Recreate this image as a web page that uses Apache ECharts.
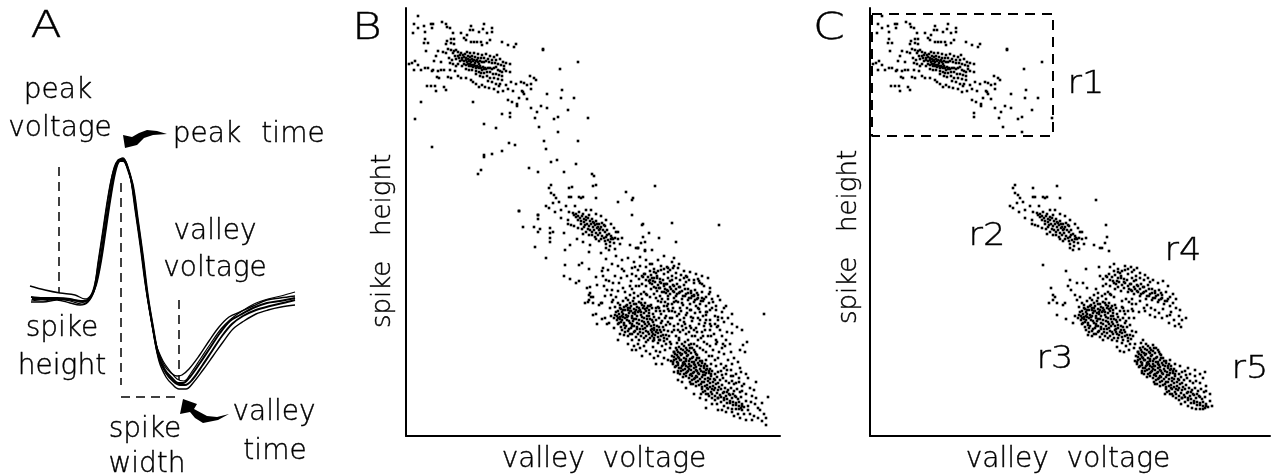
<!DOCTYPE html>
<html><head><meta charset="utf-8">
<style>html,body{margin:0;padding:0;background:#fff}#c{width:1277px;height:476px}</style>
<script src="https://cdn.jsdelivr.net/npm/echarts@6/dist/echarts.min.js"></script>
</head><body><div id="c"></div>
<script>
const wave1=[[31,179],[43,178],[57,178],[70,177],[83,174],[90,178],[95,189],[100,213],[105,246],[110,279],[115,306],[119,315],[123,317],[127,311],[132,293],[137,259],[142,223],[147,183],[152,153],[158,122],[165,106],[172,98],[178,93],[183,93],[190,99],[200,113],[210,128],[220,143],[230,155],[240,161],[253,168],[267,173],[280,175],[295,178]];
const wave2=[[30,190],[45,186],[60,183],[75,181],[85,177],[91,181],[95,193],[99,217],[104,250],[109,283],[114,308],[118,316],[122,317],[126,312],[131,296],[136,263],[141,228],[146,190],[151,159],[157,128],[164,111],[171,103],[177,100],[182,101],[189,107],[199,120],[209,135],[219,149],[229,159],[240,164],[253,170],[267,176],[280,178],[295,180]];
const wave3=[[31,174],[43,174],[57,176],[70,173],[80,171],[88,174],[94,185],[99,209],[104,242],[109,275],[114,303],[118,314],[123,318],[128,308],[133,287],[138,252],[143,216],[148,176],[153,146],[159,115],[166,99],[172,92],[179,87],[186,87],[193,93],[203,106],[213,120],[223,134],[233,147],[244,155],[256,162],[268,166],[281,169],[295,171]];
const wave4=[[31,176],[43,175],[57,177],[70,175],[82,172],[89,176],[94,187],[98,214],[103,247],[108,280],[113,304],[118,315],[121,316],[125,313],[130,300],[135,266],[140,231],[145,193],[150,163],[156,132],[163,115],[170,105],[177,97],[184,95],[191,103],[201,118],[211,133],[221,147],[231,157],[242,165],[254,172],[268,177],[281,180],[295,184]];
const wave5=[[32,177],[43,177],[57,177],[72,176],[84,175],[91,180],[96,191],[101,215],[106,248],[111,281],[116,307],[120,315],[124,315],[128,306],[133,290],[138,255],[143,219],[148,179],[153,149],[159,118],[166,103],[173,95],[180,91],[185,91],[192,96],[202,110],[212,125],[222,140],[232,152],[243,160],[256,166],[270,170],[283,173],[295,176]];
const peakVoltageMark=[[59,309],[59,183]];
const spikeHeightMark=[[121,293],[121,91]];
const valleyVoltageMark=[[179,176],[179,96]];
const spikeWidthMark=[[121,79],[181,79]];

const r1=[[12,420],[8,412],[18,410],[25,412],[27,412],[36,414],[40,412],[41,409],[44,408],[12,408],[26,408],[7,403],[19,404],[78,412],[65,410],[64,406],[67,406],[73,404],[77,407],[86,408],[86,404],[81,403],[47,403],[55,403],[61,401],[58,398],[19,397],[18,393],[22,393],[41,395],[45,397],[48,397],[40,392],[45,393],[48,392],[60,396],[65,394],[68,394],[71,394],[75,394],[76,391],[81,393],[84,396],[96,394],[102,391],[108,389],[110,392],[137,386],[20,385],[32,385],[37,384],[40,383],[30,380],[28,375],[35,374],[6,373],[9,375],[3,372],[12,371],[8,366],[15,366],[19,368],[22,368],[26,365],[27,366],[32,365],[35,366],[38,366],[44,366],[49,365],[31,359],[33,358],[42,359],[45,358],[52,360],[55,358],[60,358],[65,356],[21,350],[25,350],[29,350],[38,349],[30,345],[40,346],[67,354],[70,352],[76,351],[82,355],[86,354],[90,352],[94,352],[73,349],[79,349],[83,348],[88,347],[93,350],[100,351],[105,354],[110,352],[115,354],[118,353],[92,344],[97,345],[102,347],[107,345],[116,345],[118,342],[125,347],[124,360],[128,358],[130,356],[125,352],[121,351],[141,342],[156,346],[155,338],[168,338],[117,344],[113,338],[102,336],[106,334],[111,332],[111,330],[121,337],[125,328],[135,330],[141,328],[131,324],[129,318],[162,326],[152,319],[148,317],[182,318],[133,309],[152,304],[104,323],[104,319],[172,374],[137,387],[154,367],
[42,387],[45,386],[48,385],[50,386],[47,383],[52,384],[55,383],[49,380],[52,380],[54,381],[57,381],[59,382],[61,384],[64,383],[68,383],[72,382],[76,381],[80,382],[84,380],[88,379],[91,381],[50,377],[53,378],[56,378],[58,379],[60,378],[62,380],[64,379],[66,380],[69,379],[72,378],[75,378],[78,378],[82,377],[86,376],[90,376],[94,377],[97,374],[100,373],[104,372],[54,375],[56,376],[58,375],[60,376],[61,374],[62,377],[63,375],[64,376],[65,374],[66,377],[67,375],[68,376],[69,373],[70,375],[71,376],[72,374],[73,372],[74,375],[76,374],[78,374],[80,375],[83,374],[86,373],[89,373],[92,372],[95,371],[98,370],[58,372],[60,371],[62,372],[63,370],[64,372],[65,370],[66,371],[67,369],[68,371],[69,370],[70,368],[71,370],[72,369],[73,368],[74,370],[75,368],[76,366],[77,369],[78,367],[79,368],[80,367],[82,368],[84,368],[86,367],[88,368],[90,369],[92,366],[94,365],[96,364],[98,367],[100,365],[104,364],[56,370],[60,367],[63,366],[66,366],[70,365],[73,364],[75,363],[78,363],[81,364],[84,364],[87,362],[90,362],[93,361],[96,360],[70,362],[74,360],[77,359],[81,360],[84,358],[88,358],[92,357],[96,356],[52,372],[50,370],[47,372],[44,373],[46,376],[43,378]];
const r2=[[145,251],[143,248],[163,248],[187,250],[226,236],[145,243],[148,241],[150,238],[163,239],[165,239],[173,239],[177,239],[190,238],[147,233],[140,230],[143,228],[153,234],[160,230],[169,230],[175,238],[149,224],[155,226],[163,224],[180,226],[185,226],[155,218],[162,216],[167,223],[168,221],[170,219],[172,220],[174,218],[176,220],[178,217],[172,216],[175,215],[178,214],[180,216],[182,218],[184,215],[186,217],[188,213],[190,215],[193,212],[196,213],[199,210],[181,212],[183,210],[185,212],[187,209],[189,211],[191,208],[193,206],[195,209],[197,206],[199,204],[201,206],[203,202],[205,200],[207,197],[184,206],[186,204],[188,206],[190,203],[192,201],[194,203],[196,200],[198,198],[200,199],[202,196],[204,194],[206,198],[162,212],[165,211],[168,210],[172,208],[176,207],[178,209],[180,204],[183,201],[177,202],[200,192],[204,190],[208,193],[212,197],[214,192],[209,187],[203,186],[200,188],[193,195],[190,197],[210,204],[208,208],[212,204],[205,212],[200,216],[195,220],[190,222],[216,198],[236,211],[237,199],[235,193],[224,191],[230,188],[232,188],[239,185],
[170,222],[173,224],[177,222],[180,219],[183,221],[175,212],[179,211],[182,207],[187,214],[191,212],[194,207],[198,211],[186,201],[189,199],[195,197],[199,195],[201,201],[205,197],[209,198],[192,209]];
const r3=[[173,171],[196,165],[216,167],[229,169],[181,148],[200,156],[198,150],[201,146],[207,153],[213,153],[217,148],[183,141],[183,136],[185,139],[179,133],[187,133],[193,131],[187,121],[196,117],[195,133],[205,141],[210,139],[207,136],[212,133],[209,129],[214,131],[217,135],[220,138],[224,141],[228,143],[232,140],[236,137],[240,142],[244,139],[215,127],[218,129],[221,131],[224,133],[227,135],[230,132],[233,134],[236,131],[239,133],[242,130],[246,128],[210,124],[213,122],[216,124],[219,126],[222,128],[225,125],[228,127],[231,129],[234,126],[237,128],[240,125],[243,123],[247,122],[250,125],[253,128],[255,122],[258,125],[208,118],[211,120],[214,117],[217,119],[220,121],[223,123],[226,120],[229,122],[232,124],[235,121],[238,118],[241,120],[244,117],[247,114],[250,116],[253,118],[256,115],[259,118],[212,112],[215,114],[218,111],[221,116],[224,113],[227,115],[230,117],[233,112],[236,115],[239,112],[242,114],[245,110],[248,108],[251,110],[254,106],[257,109],[260,111],[262,105],[216,106],[219,108],[222,105],[225,108],[228,110],[231,107],[234,104],[237,107],[240,105],[243,102],[246,104],[249,101],[252,103],[255,100],[258,98],[260,101],[222,100],[226,102],[230,99],[233,96],[218,101],[238,98],[242,96],[247,95],[252,93],[256,90],[260,92],[264,88],[247,89],[250,85],[254,84],[259,86],[265,92],[268,84],[271,93],[273,96],[263,100],[266,104],[263,125],[264,118],[262,132],[205,120],[203,113],[235,142],[226,147],[222,136],[228,138],[252,135],
[209,121],[212,125],[214,119],[217,122],[219,118],[222,120],[224,125],[226,118],[229,124],[231,120],[233,125],[236,119],[238,123],[241,117],[243,120],[246,116],[248,119],[211,116],[213,113],[216,116],[218,113],[221,119],[223,115],[226,112],[228,117],[231,113],[233,116],[236,110],[238,114],[241,110],[243,112],[246,107],[248,111],[251,106],[253,109],[255,113],[214,128],[217,126],[220,130],[222,126],[225,130],[228,132],[230,126],[233,128],[235,133],[238,130],[241,128],[243,126],[245,131],[220,110],[223,107],[226,110],[229,105],[231,109],[234,107],[237,103],[239,108],[242,104],[245,106],[247,102],[250,104],[252,99],[255,104],[257,101],[215,109],[219,104],[224,102],[228,104],[232,102],[235,100],[240,100],[244,98],[248,98],[253,96],[258,95],[261,97],[212,118],[216,120],[224,128],[227,123],[235,124],[239,127]];
const r4=[[240,169],[244,172],[248,167],[244,165],[250,163],[255,166],[258,162],[262,164],[266,160],[270,163],[275,161],[278,158],[283,156],[288,153],[293,155],[298,150],[230,160],[233,157],[237,159],[240,156],[236,152],[233,150],[240,150],[244,153],[247,155],[251,158],[254,154],[257,156],[260,152],[264,155],[268,150],[271,152],[274,149],[278,151],[282,147],[285,143],[289,146],[292,141],[296,144],[300,139],[303,142],[306,137],[238,144],[241,141],[245,147],[248,149],[251,145],[254,148],[258,144],[261,146],[264,142],[267,145],[270,140],[273,143],[276,137],[279,140],[282,136],[285,138],[288,134],[291,137],[294,132],[297,135],[300,130],[303,133],[306,128],[310,126],[256,137],[259,134],[262,137],[266,132],[270,135],[274,128],[277,131],[281,128],[285,126],[289,123],[293,127],[297,120],[301,124],[304,116],[299,113],[305,110],[309,112],[312,116],[311,109],[300,121],[285,119],[280,121],[275,125],[262,127],[252,129],[254,125],[269,124],[292,118],[316,118],[309,120],
[236,160],[239,162],[242,159],[245,161],[248,158],[251,160],[254,157],[243,155],[246,152],[249,154],[252,151],[255,153],[258,150],[261,152],[264,149],[267,151],[270,147],[273,149],[276,145],[279,147],[282,143],[285,145],[288,141],[291,143],[259,147],[262,145],[265,147],[268,144],[271,142],[274,144],[277,140],[280,142],[283,138],[286,140],[289,136],[292,138],[295,135],[298,137],[255,170],[258,167],[261,169],[264,166],[267,168],[252,165],[270,158],[274,156],[280,154],[262,158],[266,156],[248,164]];
const r5=[[273,89],[276,92],[280,88],[283,91],[268,84],[271,86],[274,83],[277,86],[280,83],[283,85],[286,88],[289,84],[291,81],[266,80],[269,82],[272,79],[275,81],[278,78],[281,80],[284,77],[287,79],[290,76],[293,78],[296,75],[299,72],[268,76],[271,74],[274,76],[277,73],[280,75],[283,72],[286,74],[289,71],[292,73],[295,70],[298,68],[301,70],[304,67],[270,70],[273,68],[276,70],[279,67],[282,69],[285,66],[288,68],[291,65],[294,67],[297,64],[300,66],[303,63],[306,65],[309,62],[312,64],[316,61],[320,62],[325,60],[278,62],[281,64],[284,61],[287,63],[290,60],[293,62],[296,59],[299,61],[302,58],[305,60],[308,57],[311,59],[314,56],[317,58],[320,55],[323,53],[326,55],[330,53],[333,58],[336,50],[286,56],[289,58],[292,55],[295,52],[298,54],[301,51],[304,53],[307,50],[310,52],[313,49],[316,51],[319,48],[322,46],[325,48],[328,45],[331,47],[334,44],[296,47],[299,45],[302,47],[305,44],[308,46],[311,43],[314,41],[317,43],[320,40],[323,42],[326,38],[329,40],[332,37],[335,39],[306,38],[309,36],[312,38],[315,34],[318,36],[321,33],[324,35],[327,31],[330,33],[333,30],[336,32],[326,27],[330,27],[335,28],[338,29],[342,30],[336,45],[340,42],[315,65],[340,35],[284,70],[279,72],[267,72],[275,65],[300,76],[305,72],[290,50],[295,42],[285,52],[272,63],[265,75],[310,70],[318,68],[325,66],[330,62],[335,64],[302,42],[311,32],[318,30],[322,28],
[270,88],[272,84],[275,87],[278,90],[281,86],[284,88],[268,79],[271,81],[273,78],[276,82],[279,84],[282,81],[285,83],[288,86],[290,82],[267,74],[270,77],[272,73],[275,76],[278,74],[280,77],[283,75],[286,78],[288,74],[291,78],[294,75],[269,69],[272,71],[275,68],[277,71],[280,70],[283,67],[285,70],[288,72],[290,69],[293,71],[296,73],[298,70],[301,67],[272,65],[274,62],[277,66],[280,63],[282,65],[285,62],[288,64],[290,66],[292,63],[295,65],[297,61],[300,63],[303,65],[305,62],[277,59],[280,60],[283,58],[286,60],[288,57],[291,59],[294,57],[296,54],[299,57],[302,55],[304,57],[307,54],[309,56],[312,53],[284,54],[287,52],[290,54],[293,51],[296,49],[299,50],[301,48],[304,49],[306,47],[309,48],[312,46],[315,47],[318,44],[321,44],[324,41],[327,42],[330,39],[297,44],[300,42],[303,40],[306,42],[309,40],[312,38],[315,39],[318,38],[321,37],[324,33],[327,34],[330,31],[333,34],[336,30],[333,27]];
const bOnly=[[166,249],[190,251],[249,250],[220,244],[227,238],[212,234],[113,225],[132,221],[132,217],[117,209],[128,209],[134,207],[132,204],[144,208],[147,204],[144,203],[144,198],[144,194],[129,189],[140,178],[158,203],[164,191],[159,186],[171,197],[177,194],[184,191],[183,184],[195,183],[159,171],[158,160],[164,157],[170,153],[173,155],[176,173],[183,167],[190,159],[184,149],[191,151],[197,168],[202,166],[184,143],[187,139],[182,134],[196,133],[206,134],[190,122],[191,112],[199,118],[201,112],[226,221],[237,212],[266,213],[313,211],[253,198],[270,194],[243,203],[239,194],[232,188],[239,186],[358,122],[362,39],[356,33],[341,94],[337,91],[334,86],[339,84],[336,106],[331,109],[326,112],[326,103],[321,104],[312,119],[304,144],[307,134],[292,157],[294,153],[281,159],[15,334],[67,334],[9,317],[78,312],[90,308],[96,322],[138,295],[172,295],[103,293],[109,291],[26,289],[140,287],[96,285],[86,282],[78,281],[78,279],[145,274],[151,276],[170,272],[123,268],[132,264],[158,264],[186,262],[188,260],[75,266],[72,262],[113,225],[132,221],
[210,180],[216,176],[222,178],[228,174],[234,179],[212,170],[218,165],[206,172],[200,177],[197,160],[203,155],[209,160],[215,158],[221,160],[225,155],[230,150],[226,162],[212,145],[219,144],[224,150],[206,146],[199,140],[204,128],[208,108],[214,102],[222,92],[228,90],[232,92],[238,90],[226,96],[212,96],[240,85],[244,82],[236,80],[230,86],[248,78],[252,80],[258,78],[262,76],[256,72],[250,72],[248,96],[253,148],[258,152],[246,158],[262,168],[268,170],[273,172],[278,165],[284,164],[290,162],[296,160],[302,158],[268,178],[252,176],[258,180],[246,186],[272,112],[278,114],[284,110],[290,108],[296,104],[302,100],[308,102],[314,106],[320,96],[324,92],[316,88],[310,92],[304,90],[298,94],[292,96],[286,100],[280,102],[274,104],[268,110],[262,114],[258,106],[266,118],[274,116],[282,96],[288,92],[294,88],[300,84],[306,80],[312,78],[318,82],[322,76],[328,78],[304,106],[298,110],[310,96],[316,100],[320,70],[326,72],[332,74],[334,68],[340,62],[328,52],[338,52],[344,48],[348,46],[346,40],[350,38],[352,28],[344,22],[348,20],[352,18],[356,15],[360,18],[358,22],[360,11],[354,26],[342,26],[338,22],[332,22],[328,20],[334,18],[340,16],[346,16],[336,26],[320,24],[316,26],[345,34],[349,32],[312,26],[306,32],[300,36],[294,38],[288,42],[280,48],[276,54],[272,56],[268,64],[326,24],[350,54],[342,58],[300,28],[298,64],[246,100],[240,94],[234,88],[226,86],[248,106],[244,130],[250,138],[256,144],[262,140],[268,138],[272,134],[278,118],[284,132],[290,130],[286,115],[294,124],[300,116],[276,110],[270,100],[264,94],[254,96],[258,130],[250,148],[244,156],[238,162],[232,166],[288,140],[296,138],[304,126],[310,130],[316,124],[322,118],[318,114],[326,122],[314,136],[320,130],
[281,123],[287,118],[293,112],[299,106],[305,100],[311,94],[317,92],[266,125],[271,120],[277,106],[283,104],[289,100],[295,98],[301,92],[307,86],[313,84],[319,90],[325,84],[268,106],[273,98],[279,94],[285,92],[291,90],[297,86],[303,80],[309,76],[315,72],[321,66],[327,60],[333,54],[250,128],[255,134],[261,130],[267,128],[273,122],[279,112],[285,108],[291,104],[297,100],[260,120],[264,112],[272,106],[280,108],[288,106],[294,116],[304,112],[312,110],[248,142],[254,140],[260,143],[268,134],[276,133],[284,126],[292,128],[300,124],[266,174],[272,168],[280,160],[288,156],[296,152],[304,148],[312,140],[318,128],[226,168],[234,170],[240,176],[246,172]];

const FONT="'DejaVu Sans Light','DejaVu Sans'";
const wave=(d,w)=>({type:'line',xAxisIndex:0,yAxisIndex:0,data:d,smooth:0.35,showSymbol:false,lineStyle:{color:'#000',width:w},silent:true});
const dash=(d,x,y,w,t)=>({type:'line',xAxisIndex:x,yAxisIndex:y,data:d,showSymbol:false,lineStyle:{color:'#000',width:w||1.5,type:t||[9,6]},silent:true});
const clustered=[...r1,...r2,...r3,...r4,...r5];
const scatter=(d,x,y)=>({type:'scatter',xAxisIndex:x,yAxisIndex:y,data:d,symbol:'rect',symbolSize:2.6,itemStyle:{color:'#000',opacity:1},silent:true});
const boxC=[[2,422],[183,422],[183,300],[2,300],[2,422]];
const txt=(s,x,y,size,sx,rot)=>({type:'text',x,y,scaleX:sx||1,rotation:rot||0,silent:true,style:{text:s,fontFamily:FONT,fontSize:size||28,fill:'#000',stroke:'#000',lineWidth:0.4,align:'center',verticalAlign:'middle'}});
const hidden={show:false};
const axisLine={show:true,onZero:false,lineStyle:{color:'#000',width:2}};
const chart=echarts.init(document.getElementById('c'),null,{renderer:'canvas'});
const plain={axisLine,axisTick:hidden,axisLabel:hidden,splitLine:hidden};
chart.setOption({
 animation:false,backgroundColor:'#fff',
 grid:[{left:0,top:0,width:340,height:476,outerBoundsMode:'none'},{left:406,top:8,width:374,height:428,outerBoundsMode:'none'},{left:870,top:8,width:400,height:428,outerBoundsMode:'none'}],
 xAxis:[{gridIndex:0,type:'value',min:0,max:340,...hidden},
  {gridIndex:1,type:'value',min:0,max:374,...plain},
  {gridIndex:2,type:'value',min:0,max:400,...plain}],
 yAxis:[{gridIndex:0,type:'value',min:0,max:476,...hidden},
  {gridIndex:1,type:'value',min:0,max:428,...plain},
  {gridIndex:2,type:'value',min:0,max:428,...plain}],
 series:[wave(wave1,2),wave(wave2,1.4),wave(wave3,1.4),wave(wave4,1.2),wave(wave5,2),
  dash(peakVoltageMark,0,0),dash(spikeHeightMark,0,0),dash(valleyVoltageMark,0,0),dash(spikeWidthMark,0,0),
  scatter(clustered,1,1),scatter(bOnly,1,1),scatter(clustered,2,2),dash(boxC,2,2,2,[10,7])],
 graphic:[
  txt('A',46,27,38,1.2),txt('B',367,29,38,1.2),txt('C',829,29,38,1.2),
  txt('peak',58,91),txt('voltage',60,129),txt('peak',207,135),txt('time',293,135),
  txt('valley',215,232),txt('voltage',215,269),txt('spike',62,329),txt('height',62,367),
  txt('spike',145,430),txt('width',147,465),txt('valley',274,413),txt('time',275,452),
  txt('valley  voltage',604,460,28),txt('valley  voltage',1068,460,28),
  txt('spike   height',383,241,26,1,Math.PI/2),txt('spike   height',849,237,26,1,Math.PI/2),
  txt('r1',1086,85,32,1.1),txt('r2',987,237,32,1.1),txt('r4',1183,252,32,1.1),txt('r3',1055,360,32,1.1),txt('r5',1250,370,32,1.1),
  {type:'polygon',silent:true,shape:{points:[[125,148],[123,135],[132,137],[139,133],[147,130],[157,131],[167,134],[153,135],[144,138],[137,145]]},style:{fill:'#000'}},
  {type:'polygon',silent:true,shape:{points:[[183,399],[197,404],[194,409],[207,416],[217,417],[229,414],[218,420],[203,423],[195,418],[190,412],[180,414]]},style:{fill:'#000'}}
 ]
});
</script></body></html>
